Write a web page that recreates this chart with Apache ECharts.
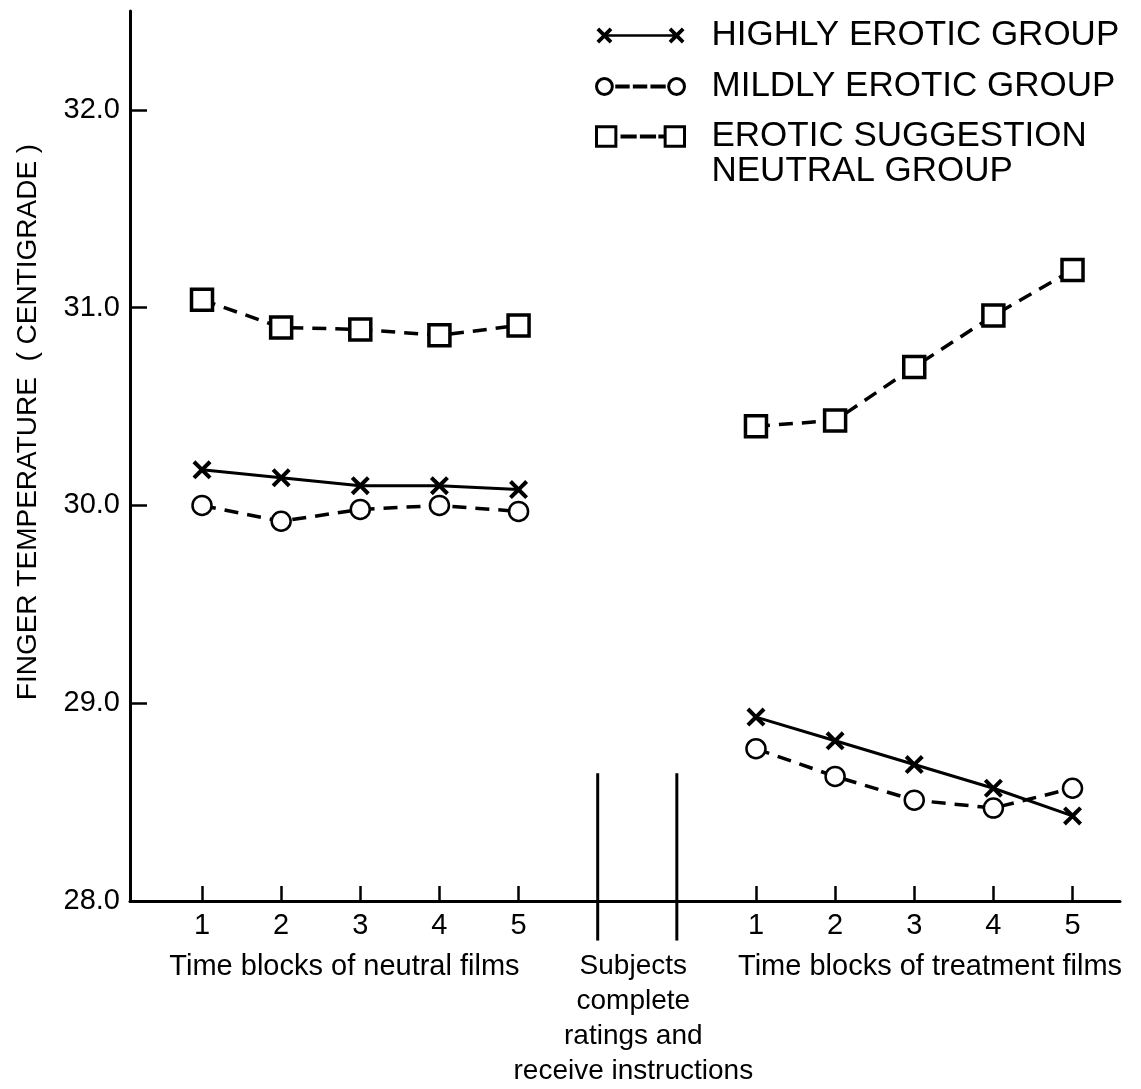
<!DOCTYPE html>
<html>
<head>
<meta charset="utf-8">
<script src="https://cdn.jsdelivr.net/npm/echarts@6/dist/echarts.min.js"></script>
<style>
html,body{margin:0;padding:0;background:#fff;}
#chart{width:1141px;height:1089px;}
</style>
</head>
<body>
<div id="chart"></div>
<script>
// ---- data ----
const blockLabels = ['1', '2', '3', '4', '5'];
const neutralPos = [1, 2, 3, 4, 5];
const treatmentPos = [8, 9, 10, 11, 12];
const separatorPos = [6, 7];
const yTicks = [28, 29, 30, 31, 32];

const seriesNames = ['HIGHLY EROTIC GROUP', 'MILDLY EROTIC GROUP', 'EROTIC SUGGESTION\nNEUTRAL GROUP'];

const neutralHigh = [30.18, 30.14, 30.10, 30.10, 30.08];
const neutralMild = [30.00, 29.92, 29.98, 30.00, 29.97];
const neutralSugg = [31.04, 30.90, 30.89, 30.86, 30.91];

const treatHigh = [28.93, 28.81, 28.69, 28.57, 28.43];
const treatMild = [28.77, 28.63, 28.51, 28.47, 28.57];
const treatSugg = [30.40, 30.43, 30.70, 30.96, 31.19];

const sideLabels = ['Time blocks of neutral films', 'Time blocks of treatment films'];
const sideLabelPos = [2.8, 10.2];
const middleLabel = 'Subjects\ncomplete\nratings and\nreceive instructions';
const middleLabelPos = [6.45];

const yTitle = 'FINGER TEMPERATURE  ( CENTIGRADE )';

// ---- build ----
const FONT = 'Liberation Sans';
const xSym = 'path://M3,0 L10,7 L17,0 L20,3 L13,10 L20,17 L17,20 L10,13 L3,20 L0,17 L7,10 L0,3 Z';

// legend icons (marker - line - marker)
const iconX = 'path://M0,4 L3,1 L9,7 L15,1 L18,4 L12,10 L18,16 L15,19 L9,13 L3,19 L0,16 L6,10 Z ' +
  'M82,4 L85,1 L91,7 L97,1 L100,4 L94,10 L100,16 L97,19 L91,13 L85,19 L82,16 L88,10 Z ' +
  'M12,8.6 L88,8.6 L88,11.4 L12,11.4 Z';
const iconO = 'path://M18,10 A9,9 0 1,1 0,10 A9,9 0 1,1 18,10 Z M100,10 A9,9 0 1,1 82,10 A9,9 0 1,1 100,10 Z ' +
  'M23,9.5 L36,9.5 L36,10.5 L23,10.5 Z M43,9.5 L56,9.5 L56,10.5 L43,10.5 Z M63,9.5 L77,9.5 L77,10.5 L63,10.5 Z';
const iconS = 'path://M0,-1 L22,-1 L22,21 L0,21 Z M78,-1 L100,-1 L100,21 L78,21 Z ' +
  'M29,9.5 L44,9.5 L44,10.5 L29,10.5 Z M51,9.5 L66,9.5 L66,10.5 L51,10.5 Z M72,9.5 L78,9.5 L78,10.5 L72,10.5 Z';

function pairs(pos, vals) { return pos.map((p, i) => [p, vals[i]]); }

const styles = [
  { symbol: xSym, symbolSize: 19, lineStyle: { color: '#000', width: 3, type: 'solid' }, itemStyle: { color: '#000' } },
  { symbol: 'circle', symbolSize: 19, lineStyle: { color: '#000', width: 3.5, type: [14, 9] }, itemStyle: { color: '#fff', borderColor: '#000', borderWidth: 2.5 } },
  { symbol: 'rect', symbolSize: 21, lineStyle: { color: '#000', width: 3.5, type: [14, 9] }, itemStyle: { color: '#fff', borderColor: '#000', borderWidth: 3.5 } }
];
const neutralSets = [neutralHigh, neutralMild, neutralSugg];
const treatSets = [treatHigh, treatMild, treatSugg];

const series = [];
for (let k = 0; k < 3; k++) {
  [[neutralPos, neutralSets[k]], [treatmentPos, treatSets[k]]].forEach(([pos, vals]) => {
    series.push(Object.assign({
      type: 'line', name: seriesNames[k], data: pairs(pos, vals),
      showAllSymbol: true, animation: false, z: 3
    }, JSON.parse(JSON.stringify(styles[k]))));
  });
}
separatorPos.forEach(p => {
  series.push({
    type: 'line', data: [[p, 28.646], [p, 27.8]], clip: false, symbol: 'none',
    lineStyle: { color: '#000', width: 3 }, silent: true, animation: false, z: 2
  });
});

const legendText = { fontFamily: FONT, fontSize: 35, color: '#000', lineHeight: 35, rich: { p: { width: 22, fontSize: 35 } } };
const legendCommon = {
  orient: 'vertical', left: 590, itemWidth: 88, itemHeight: 22, itemGap: 16,
  selectedMode: false, symbolKeepAspect: true,
  itemStyle: { borderWidth: 3 },
  textStyle: legendText
};

const chart = echarts.init(document.getElementById('chart'), null, { renderer: 'canvas' });
chart.setOption({
  backgroundColor: '#fff',
  animation: false,
  textStyle: { fontFamily: FONT, color: '#000' },
  grid: { left: 130, right: 21, top: 11, bottom: 186, containLabel: false },
  legend: [
    Object.assign({}, legendCommon, {
      top: 13,
      data: [{ name: seriesNames[0], icon: iconX }, { name: seriesNames[1], icon: iconO }],
      formatter: n => '{p| }' + n
    }),
    Object.assign({}, legendCommon, {
      top: 79,
      data: [{ name: seriesNames[2], icon: iconS }],
      formatter: n => ' \n' + n.split('\n').map(s => '{p| }' + s).join('\n')
    })
  ],
  xAxis: [{
    type: 'value', min: 0.09, max: 12.6,
    axisLine: { show: true, onZero: false, lineStyle: { color: '#000', width: 3 } },
    axisTick: { show: true, inside: true, length: 15, lineStyle: { color: '#000', width: 2.5 }, customValues: neutralPos.concat(treatmentPos) },
    axisLabel: {
      customValues: neutralPos.concat(treatmentPos), margin: 10, fontSize: 29, color: '#000', fontFamily: FONT,
      formatter: v => { let i = neutralPos.indexOf(v); if (i < 0) i = treatmentPos.indexOf(v); return blockLabels[i]; }
    },
    splitLine: { show: false }
  }, {
    type: 'value', min: 0.09, max: 12.6, position: 'bottom',
    axisLine: { show: false }, axisTick: { show: false }, splitLine: { show: false },
    axisLabel: {
      customValues: sideLabelPos, margin: 48, fontSize: 29, lineHeight: 35, color: '#000', fontFamily: FONT,
      hideOverlap: false,
      formatter: v => sideLabels[sideLabelPos.indexOf(v)]
    }
  }, {
    type: 'value', min: 0.09, max: 12.6, position: 'bottom',
    axisLine: { show: false }, axisTick: { show: false }, splitLine: { show: false },
    axisLabel: {
      customValues: middleLabelPos, margin: 48, fontSize: 28, lineHeight: 35, color: '#000', fontFamily: FONT,
      hideOverlap: false,
      formatter: () => middleLabel
    }
  }],
  yAxis: {
    type: 'value', min: 28, max: 32.5,
    name: yTitle, nameLocation: 'middle', nameGap: 88, nameRotate: 90,
    nameTextStyle: { fontSize: 28, color: '#000', fontFamily: FONT, padding: [0, 0, 0, 68] },
    axisLine: { show: true, onZero: false, lineStyle: { color: '#000', width: 3 } },
    axisTick: { show: true, inside: true, length: 17, lineStyle: { color: '#000', width: 2.5 }, customValues: yTicks.slice(1) },
    axisLabel: { customValues: yTicks, margin: 10, fontSize: 29, color: '#000', fontFamily: FONT, formatter: v => v.toFixed(1) },
    splitLine: { show: false }
  },
  series: series
});
</script>
</body>
</html>
